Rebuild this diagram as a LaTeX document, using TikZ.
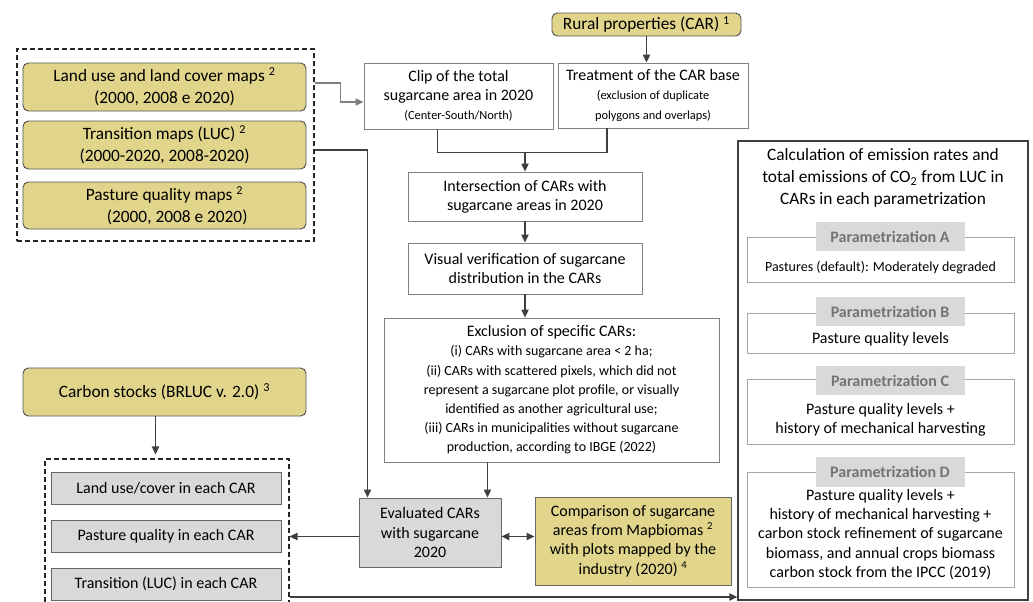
\documentclass[tikz,border=0pt]{standalone}
\usepackage{fontspec}
\setmainfont{Carlito}
\usetikzlibrary{calc,arrows.meta}
\definecolor{cyel}{RGB}{224,213,139}
\definecolor{cgry}{RGB}{217,217,217}
\definecolor{cline}{RGB}{64,64,64}
\definecolor{cbord}{RGB}{128,128,128}
\definecolor{clab}{RGB}{115,115,115}
\newcommand{\fbig}{\fontsize{13}{16.5}\selectfont}
\newcommand{\fmain}{\fontsize{12}{14.4}\selectfont}
\newcommand{\fmid}{\fontsize{10.5}{12.8}\selectfont}
\newcommand{\fsml}{\fontsize{9.3}{11.5}\selectfont}

\begin{document}
\begin{tikzpicture}[x=.75pt,y=-.75pt,
    sz/.style 2 args={minimum width=#1*.75pt,minimum height=#2*.75pt},
    ybox/.style={draw=cline!90,fill=cyel,rounded corners=4pt,align=center,inner sep=0pt,line width=.7pt,font=\fbig},
    wbox/.style={draw=cbord,fill=white,align=center,inner sep=0pt,line width=.7pt,font=\fmain},
    gbox/.style={draw=cline!80,fill=cgry,align=center,inner sep=0pt,line width=.7pt,font=\fmain},
    cbox/.style={draw=cline!80,fill=cyel,align=center,inner sep=0pt,line width=.7pt,font=\fmain},
    grp/.style={draw=black!85,line width=.8pt,dash pattern=on 3.75pt off 2.25pt,inner sep=0pt},
    pbox/.style={draw=cline,line width=1pt,inner sep=0pt},
    parbox/.style={draw=black!35,line width=.6pt,inner sep=0pt},
    parlab/.style={fill=cgry,text=clab,font=\fmain\bfseries,inner sep=0pt},
    arr/.style={draw=cline,line width=.9pt,-{Triangle[length=6pt,width=5.5pt]}},
    darr/.style={draw=cline,line width=.9pt,{Triangle[length=6pt,width=5.5pt]}-{Triangle[length=6pt,width=5.5pt]}},
    garr/.style={draw=cbord,line width=.8pt,-{Triangle[length=6pt,width=5.5pt]}},
    ln/.style={draw=cline,line width=.9pt}]
  \useasboundingbox (0,0) rectangle (1033,601);

  % input maps
  \node[grp,sz={297}{192}] (inmaps) at (165.5,145) {};
  \node[ybox,sz={283}{48}] (lulc) at (164.5,87) {Land use and land cover maps \textsuperscript{2}\\(2000, 2008 e 2020)};
  \node[ybox,sz={283}{48}] (luc) at (164.5,145) {Transition maps (LUC) \textsuperscript{2}\\(2000-2020, 2008-2020)};
  \node[ybox,sz={283}{47}] (pqmap) at (164.5,205.5) {Pasture quality maps \textsuperscript{2}\\\hspace*{19pt}(2000, 2008 e 2020)};

  % CAR processing chain
  \node[ybox,sz={189}{23}] (car) at (646.5,24.5) {Rural properties (CAR) \textsuperscript{1}};
  \node[wbox,sz={189}{66}] (clip) at (458.5,96) {Clip of the total\\sugarcane area in 2020\\\fsml(Center-South/North)};
  \node[wbox,sz={190}{65}] (treat) at (653,95.5) {Treatment of the CAR base\\\fsml(exclusion of duplicate\\\fsml polygons and overlaps)};
  \node[wbox,sz={234}{49}] (inter) at (525,196.5) {Intersection of CARs with\\sugarcane areas in 2020};
  \node[wbox,sz={234}{51}] (visual) at (525,268.5) {Visual verification of sugarcane\\distribution in the CARs};
  \node[wbox,sz={335}{144}] (excl) at (551.5,390) {Exclusion of specific CARs:\\\fmid(i) CARs with sugarcane area < 2 ha;\\\fmid(ii) CARs with scattered pixels, which did not\\\fmid represent a sugarcane plot profile, or visually\\\fmid identified as another agricultural use;\\\fmid(iii) CARs in municipalities without sugarcane\\\fmid production, according to IBGE (2022)};
  \node[gbox,sz={142}{69}] (eval) at (430,532.5) {Evaluated CARs\\with sugarcane\\2020};
  \node[cbox,sz={196}{88}] (comp) at (633,541) {Comparison of sugarcane\\areas from Mapbiomas \textsuperscript{2}\\with plots mapped by the\\industry (2020) \textsuperscript{4}};

  % carbon stocks and CAR attributes
  \node[ybox,sz={283}{48}] (cstock) at (164.5,392) {Carbon stocks (BRLUC v. 2.0) \textsuperscript{3}};
  \node[grp,sz={244}{150}] (percar) at (167,534) {};
  \node[gbox,sz={230}{32}] (lucar) at (166,488) {Land use/cover in each CAR};
  \node[gbox,sz={230}{32}] (pqcar) at (166,536) {Pasture quality in each CAR};
  \node[gbox,sz={230}{32}] (trcar) at (166,584) {Transition (LUC) in each CAR};

  % emissions panel
  \node[pbox,sz={290}{459}] (emis) at (883,370.5) {};
  \node[font=\fbig,align=center] (emtitle) at (883,178) {Calculation of emission rates and\\total emissions of CO\textsubscript{2} from LUC in\\CARs in each parametrization};
  \node[parbox,sz={267}{45}] (pA) at (880.5,259.5) {};
  \node[parbox,sz={267}{40}] (pB) at (880.5,333) {};
  \node[parbox,sz={267}{65}] (pC) at (880.5,411.5) {};
  \node[parbox,sz={267}{115}] (pD) at (880.5,529.5) {};
  \node[parlab,sz={149}{29}] (labA) at ($(pA.north)+(9.5,0)$) {Parametrization A};
  \node[parlab,sz={149}{29}] (labB) at ($(pB.north)+(9.5,-1)$) {Parametrization B};
  \node[parlab,sz={149}{29}] (labC) at ($(pC.north)+(9.5,2)$) {Parametrization C};
  \node[parlab,sz={149}{30}] (labD) at ($(pD.north)+(9.5,0)$) {Parametrization D};
  \node[font=\fmid] (txA) at ($(pA.center)+(0,8.5)$) {Pastures (default): Moderately degraded};
  \node[font=\fmain] (txB) at ($(pB.center)+(0,6)$) {Pasture quality levels};
  \node[font=\fmain,align=center] (txC) at ($(pC.center)+(0,8.5)$) {Pasture quality levels +\\history of mechanical harvesting};
  \node[font=\fmain,align=center] (txD) at ($(pD.center)+(0,5)$) {Pasture quality levels +\\history of mechanical harvesting +\\carbon stock refinement of sugarcane\\biomass, and annual crops biomass\\carbon stock from the IPCC (2019)};

  % connectors
  \draw[garr] (inmaps.east |- lulc) ++(0,-4) -- ++(26,0) |- ($(clip.west)+(0,6)$);
  \coordinate (e1) at ($(eval.north west)+(9,0)$);
  \draw[arr] ($(inmaps.east |- luc)+(0,5)$) -| (e1);
  \draw[arr] (car) -- (car |- treat.north);
  \coordinate (m1) at ($(inter.north)+(0,-19)$);
  \draw[ln] ($(clip.south)+(-21,0)$) |- (m1) -| ($(treat.south)+(-46,0)$);
  \draw[arr] (m1) -- (inter.north);
  \draw[arr] (inter) -- (visual);
  \draw[arr] (visual.south) -- (visual.south |- excl.north);
  \coordinate (e2) at ($(eval.north east)+(-14,0)$);
  \draw[arr] (e2 |- excl.south) -- (e2);
  \draw[darr] ($(eval.east)+(0,4)$) -- ($(eval.east -| comp.west)+(0,4)$);
  \draw[arr] ($(eval.west)+(0,4)$) -- ($(eval.west -| percar.east)+(0,4)$);
  \coordinate (c1) at ($(cstock.south)+(-9,0)$);
  \draw[arr,shorten >=3pt] (c1) -- (c1 |- percar.north);
  \coordinate (b1) at ($(percar.east |- trcar)+(0,13)$);
  \draw[arr] (b1) -- (b1 -| emis.west);
\end{tikzpicture}
\end{document}
